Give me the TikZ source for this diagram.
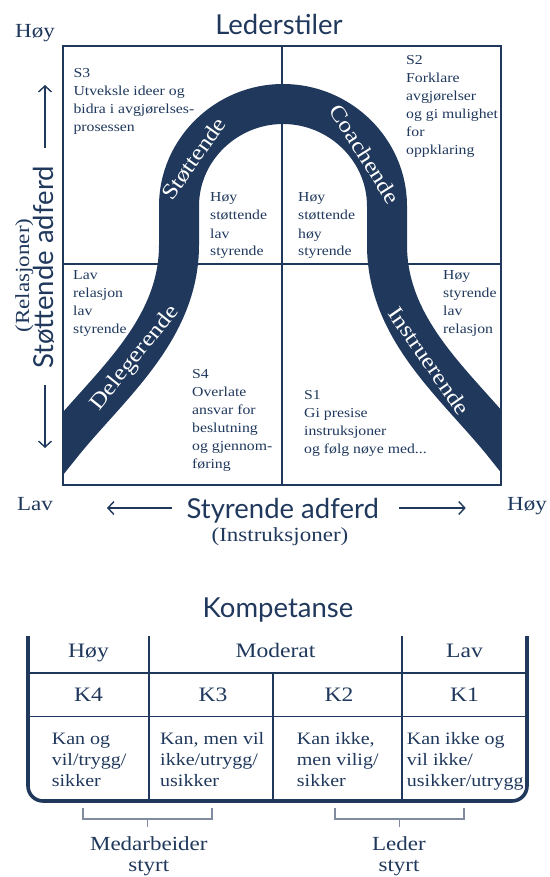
\documentclass[tikz,border=0pt]{standalone}
\usepackage{fontspec}
\setmainfont{Liberation Serif}
\newfontfamily\sansfam{Lato}
\usetikzlibrary{arrows.meta}
\definecolor{navy}{RGB}{31,56,92}
\definecolor{bracketgray}{RGB}{128,140,158}
% the serif lettering is set slightly wide
\newcommand\sx[1]{\scalebox{1.15}[1]{#1}}
% multi-line blocks whose reference point is the first baseline
\newcommand\lstack[1]{\sx{\begin{tabular}[t]{@{}l@{}}#1\end{tabular}}}
\newcommand\cstack[1]{\sx{\begin{tabular}[t]{@{}c@{}}#1\end{tabular}}}
\begin{document}
\begin{tikzpicture}[x=1pt,y=-1pt,
  quad/.style={anchor=base west,inner sep=0pt,text=navy,font=\fontsize{13.7}{18}\selectfont},
  axisword/.style={anchor=base,inner sep=0pt,text=navy,font=\fontsize{20}{20}\selectfont},
  heading/.style={anchor=base,inner sep=0pt,text=navy,font=\sansfam\fontsize{27.5}{27.5}\selectfont},
  bandlabel/.style={inner sep=0pt,text=white,font=\fontsize{22}{22}\selectfont},
  axisarrow/.style={draw=navy,line width=1.4pt,-{Straight Barb[length=6pt,width=13pt]}},
  frame/.style={draw=navy,line width=1.6pt},
  band/.style={draw=navy,line width=40pt},
  cellhead/.style={anchor=base,inner sep=0pt,text=navy,font=\fontsize{20.5}{20.5}\selectfont},
  cellbody/.style={anchor=base west,inner sep=0pt,text=navy,font=\fontsize{17.4}{21.3}\selectfont},
  rule/.style={draw=navy,line width=1.8pt},
  outer/.style={draw=navy,line width=3.6pt,rounded corners=15pt},
  bracket/.style={draw=bracketgray,line width=1.8pt},
  under/.style={anchor=base,inner sep=0pt,text=navy,font=\fontsize{20}{20.4}\selectfont}]
\useasboundingbox (0,0) rectangle (549,877);

% ---------- leadership styles grid ----------
\begin{scope}
  \clip (63,46) rectangle (501,485);
  \draw[band] (39,473) -- (63,443)
    .. controls (110,385) and (179,330) .. (179,245) -- (179,206)
    .. controls (179,150) and (226,104) .. (283,104)
    .. controls (340,104) and (387,150) .. (387,206) -- (387,245)
    .. controls (387,330) and (456,385) .. (503,443) -- (527,473);
\end{scope}
\draw[frame] (63,46) rectangle (501,485);
\draw[frame] (282,46) -- (282,485);
\draw[frame] (63,264) -- (501,264);

\node[bandlabel,rotate=54.8] (stot) at (193.9,158.8) {\sx{Støttende}};
\node[bandlabel,rotate=-57.7] (coach) at (365,154.2) {\sx{Coachende}};
\node[bandlabel,rotate=51.3] (deleg) at (135,358.3) {\sx{Delegerende}};
\node[bandlabel,rotate=-55.3] (instr) at (429.2,360.8) {\sx{Instruerende}};

\node[quad] (s3) at (73.3,78) {\lstack{S3\\Utveksle ideer og\\bidra i avgjørelses-\\prosessen}};
\node[quad] (s2) at (406,65) {\lstack{S2\\Forklare\\avgjørelser\\og gi mulighet\\for\\oppklaring}};
\node[quad] (hsls) at (210,202) {\lstack{Høy\\støttende\\lav\\styrende}};
\node[quad] (hshs) at (298,202) {\lstack{Høy\\støttende\\høy\\styrende}};
\node[quad] (lrls) at (73,279) {\lstack{Lav\\relasjon\\lav\\styrende}};
\node[quad] (hslr) at (443,279) {\lstack{Høy\\styrende\\lav\\relasjon}};
\node[quad] (s4) at (192,378) {\lstack{S4\\Overlate\\ansvar for\\beslutning\\og gjennom-\\føring}};
\node[quad] (s1) at (304,399) {\lstack{S1\\Gi presise\\instruksjoner\\og følg nøye med...}};

% ---------- titles and axes ----------
\node[heading] (title) at (279,35) {Lederstiler};
\node[axisword] (ytop) at (35,38) {\sx{Høy}};
\node[axisword] (xlow) at (35,510) {\sx{Lav}};
\node[axisword] (xhigh) at (527,510) {\sx{Høy}};

\node[heading,rotate=90] (yaxis) at (53,267.5) {Støttende adferd};
\node[axisword,rotate=90] (ysub) at (29,275.5) {\sx{(Relasjoner)}};
\coordinate (upfrom) at (45,148);  \coordinate (upto) at (45,85);
\coordinate (dnfrom) at (45,385);  \coordinate (dnto) at (45,448);
\draw[axisarrow] (upfrom) -- (upto);
\draw[axisarrow] (dnfrom) -- (dnto);

\node[heading] (xaxis) at (282.7,518.5) {Styrende adferd};
\node[axisword] (xsub) at (280,541) {\sx{(Instruksjoner)}};
\coordinate (lfrom) at (171.6,508); \coordinate (lto) at (107,508);
\coordinate (rfrom) at (399,508);   \coordinate (rto) at (465.7,508);
\draw[axisarrow] (lfrom) -- (lto);
\draw[axisarrow] (rfrom) -- (rto);

% ---------- competence table ----------
\node[heading] (komp) at (278,617) {Kompetanse};
\draw[rule] (28,673) -- (527,673);
\draw[rule] (28,716.5) -- (527,716.5);
\draw[rule] (149,636) -- (149,801);
\draw[rule] (402,636) -- (402,801);
\draw[rule] (273,673) -- (273,801);
\draw[outer] (28,636) -- (28,801) -- (527,801) -- (527,636);

\node[cellhead] (hoy) at (88.5,657.7) {\sx{Høy}};
\node[cellhead] (mod) at (275.5,657.7) {\sx{Moderat}};
\node[cellhead] (lav) at (464.5,657.7) {\sx{Lav}};
\node[cellhead] (k4) at (88.5,701.7) {\sx{K4}};
\node[cellhead] (k3) at (213,701.7) {\sx{K3}};
\node[cellhead] (k2) at (339,701.7) {\sx{K2}};
\node[cellhead] (k1) at (464.5,701.7) {\sx{K1}};

\node[cellbody] (d4) at (51.7,744) {\lstack{Kan og\\vil/trygg/\\sikker}};
\node[cellbody] (d3) at (160,744) {\lstack{Kan, men vil\\ikke/utrygg/\\usikker}};
\node[cellbody] (d2) at (296.7,744) {\lstack{Kan ikke,\\men vilig/\\sikker}};
\node[cellbody] (d1) at (406.7,744) {\lstack{Kan ikke og\\vil ikke/\\usikker/utrygg}};

% ---------- brackets below the table ----------
\draw[bracket] (83,808) -- (83,819) -- (212,819) -- (212,808);
\draw[bracket] (147.5,819) -- (147.5,827);
\draw[bracket] (335,808) -- (335,819) -- (464,819) -- (464,808);
\draw[bracket] (399.5,819) -- (399.5,827);
\node[under] (med) at (148.8,850.6) {\cstack{Medarbeider\\styrt}};
\node[under] (led) at (399,850.6) {\cstack{Leder\\styrt}};
\end{tikzpicture}
\end{document}
